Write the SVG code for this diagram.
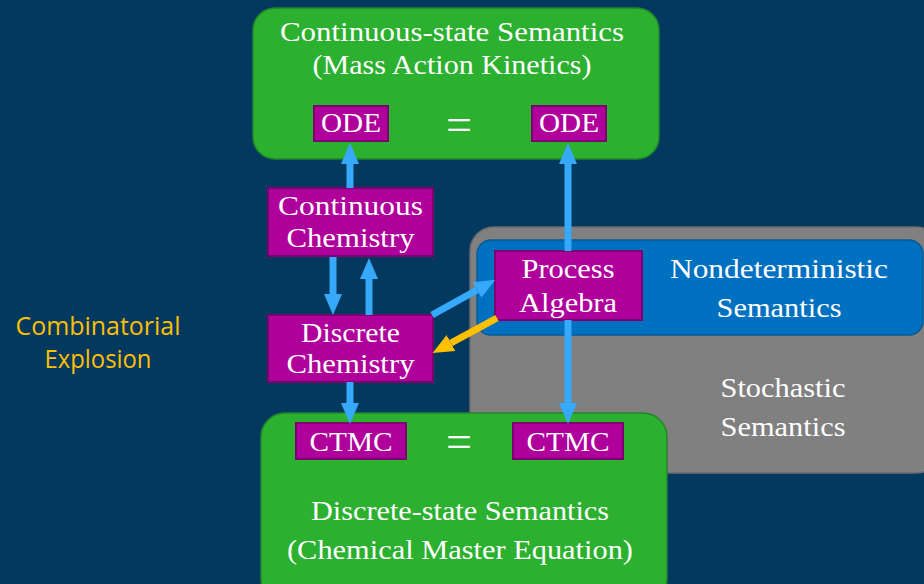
<svg xmlns="http://www.w3.org/2000/svg" width="924" height="584" viewBox="0 0 924 584">
<defs>
<style>
.bg{fill:#03385f}
.green{fill:#2cb02f;stroke:#23852a;stroke-width:1.5}
.gray{fill:#808080;stroke:#6b6b6b;stroke-width:1.5}
.blue{fill:#0070c0;stroke:#0a5a96;stroke-width:1.5}
.mag{fill:#b0009c;stroke:#7c0070;stroke-width:2}
.t{font-family:"Liberation Serif","Times New Roman",serif;font-size:28px;fill:#ffffff;text-anchor:middle}
.eq{font-family:"Liberation Serif","Times New Roman",serif;font-size:46px;fill:#ffffff;text-anchor:middle}
.ce{font-family:"Open Sans","Noto Sans",sans-serif;font-size:25px;fill:#ffc000;text-anchor:middle}
.ab{stroke:#36a9fb;stroke-width:7;fill:none}
.ao{stroke:#ffc000;stroke-width:7;fill:none}
</style>
<marker id="hb" markerUnits="userSpaceOnUse" markerWidth="21" markerHeight="20" refX="0" refY="10" orient="auto" viewBox="0 0 21 20">
<path d="M0,1 L21,10 L0,19 Z" fill="#36a9fb"/>
</marker>
<marker id="ho" markerUnits="userSpaceOnUse" markerWidth="21" markerHeight="20" refX="0" refY="10" orient="auto" viewBox="0 0 21 20">
<path d="M0,1 L21,10 L0,19 Z" fill="#ffc000"/>
</marker>
</defs>
<rect class="bg" x="0" y="0" width="924" height="584"/>

<g id="stochastic">
<rect class="gray" x="470" y="227" width="470" height="246" rx="24"/>
<text class="t" x="783" y="397" textLength="125" lengthAdjust="spacingAndGlyphs">Stochastic</text>
<text class="t" x="783" y="436" textLength="125" lengthAdjust="spacingAndGlyphs">Semantics</text>
</g>

<g id="nondeterministic">
<rect class="blue" x="477" y="240" width="446" height="95" rx="14"/>
<text class="t" x="779" y="278" textLength="218" lengthAdjust="spacingAndGlyphs">Nondeterministic</text>
<text class="t" x="779" y="317" textLength="125" lengthAdjust="spacingAndGlyphs">Semantics</text>
</g>

<g id="continuous-state">
<rect class="green" x="253" y="8" width="406" height="151" rx="22"/>
<text class="t" x="452" y="41" textLength="344" lengthAdjust="spacingAndGlyphs">Continuous-state Semantics</text>
<text class="t" x="452" y="74" textLength="279" lengthAdjust="spacingAndGlyphs">(Mass Action Kinetics)</text>
<text class="eq" x="459" y="140">=</text>
</g>

<g id="ode-left">
<rect class="mag" x="314" y="106" width="74" height="35"/>
<text class="t" x="351" y="132" textLength="60" lengthAdjust="spacingAndGlyphs">ODE</text>
</g>
<g id="ode-right">
<rect class="mag" x="532" y="106" width="74" height="35"/>
<text class="t" x="569" y="132" textLength="60" lengthAdjust="spacingAndGlyphs">ODE</text>
</g>

<g id="discrete-state">
<rect class="green" x="261" y="413" width="406" height="190" rx="24"/>
<text class="eq" x="459" y="457">=</text>
<text class="t" x="460" y="520" textLength="298" lengthAdjust="spacingAndGlyphs">Discrete-state Semantics</text>
<text class="t" x="460" y="559" textLength="346" lengthAdjust="spacingAndGlyphs">(Chemical Master Equation)</text>
</g>

<g id="ctmc-left">
<rect class="mag" x="296" y="423" width="110" height="36"/>
<text class="t" x="351" y="451" textLength="83" lengthAdjust="spacingAndGlyphs">CTMC</text>
</g>
<g id="ctmc-right">
<rect class="mag" x="513" y="423" width="110" height="36"/>
<text class="t" x="568" y="451" textLength="83" lengthAdjust="spacingAndGlyphs">CTMC</text>
</g>

<g id="continuous-chemistry">
<rect class="mag" x="268" y="188" width="165" height="68"/>
<text class="t" x="350.5" y="215" textLength="145" lengthAdjust="spacingAndGlyphs">Continuous</text>
<text class="t" x="350.5" y="247" textLength="128" lengthAdjust="spacingAndGlyphs">Chemistry</text>
</g>

<g id="discrete-chemistry">
<rect class="mag" x="268" y="315" width="165" height="67"/>
<text class="t" x="350.5" y="342" textLength="99" lengthAdjust="spacingAndGlyphs">Discrete</text>
<text class="t" x="350.5" y="373" textLength="128" lengthAdjust="spacingAndGlyphs">Chemistry</text>
</g>

<g id="process-algebra">
<rect class="mag" x="495" y="251" width="147" height="69"/>
<text class="t" x="568" y="278" textLength="93" lengthAdjust="spacingAndGlyphs">Process</text>
<text class="t" x="568" y="312" textLength="98" lengthAdjust="spacingAndGlyphs">Algebra</text>
</g>

<g id="combinatorial-explosion">
<text class="ce" x="98" y="335" textLength="165" lengthAdjust="spacingAndGlyphs">Combinatorial</text>
<text class="ce" x="98" y="368" textLength="107" lengthAdjust="spacingAndGlyphs">Explosion</text>
</g>

<g id="connectors">
<line class="ab" x1="350" y1="188" x2="350" y2="164" marker-end="url(#hb)"/>
<line class="ab" x1="568" y1="251" x2="568" y2="164" marker-end="url(#hb)"/>
<line class="ab" x1="333" y1="257" x2="333" y2="294" marker-end="url(#hb)"/>
<line class="ab" x1="369" y1="315" x2="369" y2="279" marker-end="url(#hb)"/>
<line class="ab" x1="432" y1="315" x2="477" y2="290" marker-end="url(#hb)"/>
<line class="ao" x1="497" y1="318" x2="451" y2="343" marker-end="url(#ho)"/>
<line class="ab" x1="350" y1="382" x2="350" y2="403" marker-end="url(#hb)"/>
<line class="ab" x1="568" y1="320" x2="568" y2="403" marker-end="url(#hb)"/>
</g>
</svg>
